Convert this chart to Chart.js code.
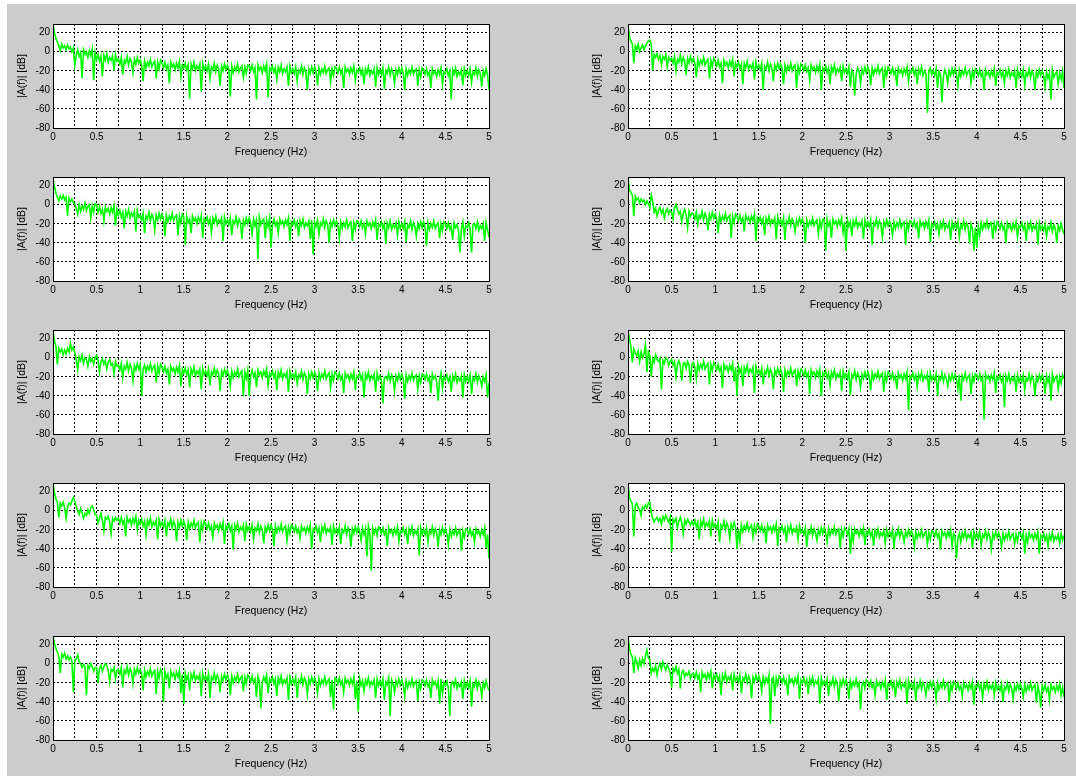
<!DOCTYPE html>
<html>
<head>
<meta charset="utf-8">
<script src="https://cdn.jsdelivr.net/npm/chart.js@4.4.1/dist/chart.umd.min.js"></script>
<style>
html,body{margin:0;padding:0;background:#ffffff;width:1076px;height:776px;overflow:hidden;}
#fig{position:absolute;left:7px;top:4px;width:1069px;height:772px;background:#cccccc;}
canvas{position:absolute;}
</style>
</head>
<body>
<div id="fig"></div>
<script>
// ---- data: |A(f)| in dB, frequency bins evenly spaced from 0 to 5 Hz ----
const F_MAX = 5;
const xTickLabels = [0, 0.5, 1, 1.5, 2, 2.5, 3, 3.5, 4, 4.5, 5];
const yTickLabels = [-80, -60, -40, -20, 0, 20];
const xTitle = 'Frequency (Hz)';
const yTitle = '|A(f)| [dB]';

const ampRow1Left = [
28,20,14,10,6,1,8,4,6,2,7,3,5,0,4,
-15,-4,2,-5,-1,-28,2,-3,0,-6,1,-4,3,-30,-1,
-8,-3,-10,-5,-26,-4,-9,-2,-11,-6,-9,-4,-20,-3,-10,
-8,-13,-6,-24,-9,-12,-5,-14,-7,-11,-22,-8,-13,-6,-12,
-9,-14,-31,-10,-17,-11,-15,-8,-16,-12,-10,-28,-11,-18,-9,
-12,-17,-11,-18,-14,-33,-11,-16,-13,-19,-12,-17,-10,-26,-14,
-17,-12,-19,-14,-49,-13,-18,-11,-20,-15,-18,-13,-42,-12,-19,
-15,-20,-13,-28,-16,-19,-12,-21,-14,-18,-36,-15,-20,-13,-19,
-14,-19,-47,-15,-22,-16,-20,-13,-21,-17,-15,-27,-16,-23,-14,
-15,-20,-14,-21,-17,-50,-14,-19,-16,-22,-15,-20,-13,-48,-17,
-20,-15,-22,-17,-29,-16,-21,-14,-23,-18,-21,-16,-36,-15,-22,
-18,-23,-16,-31,-19,-22,-15,-24,-17,-21,-40,-18,-23,-16,-22,
-16,-21,-35,-17,-24,-18,-22,-15,-23,-19,-17,-32,-18,-25,-16,
-17,-22,-16,-23,-19,-38,-16,-21,-18,-24,-17,-22,-15,-30,-19,
-22,-17,-24,-19,-34,-18,-23,-16,-25,-20,-23,-18,-37,-17,-24,
-19,-24,-17,-39,-20,-23,-16,-25,-18,-22,-33,-19,-24,-17,-23,
-17,-22,-40,-18,-25,-19,-23,-16,-24,-20,-18,-36,-19,-26,-17,
-19,-24,-18,-25,-21,-38,-18,-23,-20,-26,-19,-24,-17,-34,-21,
-23,-18,-25,-20,-50,-19,-24,-17,-26,-21,-24,-19,-35,-18,-25,
-20,-25,-18,-32,-21,-24,-17,-26,-19,-23,-37,-20,-25,-18,-24,
-40];

const ampRow1Right = [
28,16,11,8,-12,6,2,8,0,4,7,2,6,9,11,
12,8,-20,-3,-6,-2,-8,-4,-14,-5,-8,-3,-16,-6,-9,
-7,-12,-5,-20,-8,-11,-4,-13,-6,-10,-24,-7,-12,-5,-11,
-7,-12,-27,-8,-15,-9,-13,-6,-14,-10,-8,-28,-9,-16,-7,
-10,-15,-9,-16,-12,-33,-9,-14,-11,-17,-10,-15,-8,-26,-12,
-16,-11,-18,-13,-34,-12,-17,-10,-19,-14,-17,-12,-29,-11,-18,
-14,-19,-12,-40,-15,-18,-11,-20,-13,-17,-31,-14,-19,-12,-18,
-13,-18,-34,-14,-21,-15,-19,-12,-20,-16,-14,-38,-15,-22,-13,
-15,-20,-14,-21,-17,-30,-14,-19,-16,-22,-15,-20,-13,-40,-17,
-20,-15,-22,-17,-34,-16,-21,-14,-23,-18,-21,-16,-31,-15,-22,
-18,-23,-16,-37,-19,-22,-46,-24,-17,-21,-33,-18,-23,-16,-22,
-16,-21,-35,-17,-24,-18,-22,-15,-23,-19,-17,-38,-18,-25,-16,
-18,-23,-17,-24,-20,-36,-17,-22,-19,-25,-18,-23,-16,-31,-20,
-22,-17,-24,-19,-34,-18,-23,-16,-25,-20,-23,-64,-20,-17,-24,
-20,-25,-18,-38,-21,-24,-53,-26,-19,-23,-33,-20,-25,-18,-24,
-18,-23,-36,-19,-26,-20,-24,-17,-25,-21,-19,-33,-20,-27,-18,
-20,-25,-19,-26,-22,-40,-19,-24,-21,-27,-20,-25,-18,-36,-22,
-24,-19,-26,-21,-33,-20,-25,-18,-27,-22,-25,-20,-38,-19,-26,
-21,-26,-19,-35,-22,-25,-18,-27,-20,-24,-40,-21,-26,-19,-25,
-20,-25,-37,-21,-28,-22,-50,-19,-27,-23,-21,-34,-22,-29,-20,
-38];

const ampRow2Left = [
28,19,12,8,4,9,6,10,5,8,-12,7,3,6,2,
1,-4,-10,0,-7,-1,-5,2,-6,-2,0,-14,-1,-8,1,
0,-8,-2,-9,-5,-17,-2,-7,-4,-10,-3,-8,-1,-22,-5,
-11,-6,-13,-8,-25,-7,-12,-5,-14,-9,-12,-7,-28,-6,-13,
-11,-16,-9,-30,-12,-15,-8,-17,-10,-14,-27,-11,-16,-9,-15,
-10,-15,-33,-11,-18,-12,-16,-9,-17,-13,-11,-32,-12,-19,-10,
-13,-42,-12,-19,-15,-30,-12,-17,-14,-20,-13,-18,-11,-35,-15,
-18,-13,-20,-15,-29,-14,-19,-12,-21,-16,-19,-14,-38,-13,-20,
-16,-21,-14,-32,-17,-20,-13,-22,-15,-19,-36,-16,-21,-14,-20,
-14,-19,-31,-15,-22,-16,-57,-13,-21,-17,-15,-35,-16,-23,-14,
-45,-21,-15,-22,-18,-30,-15,-20,-17,-23,-16,-21,-14,-38,-18,
-21,-16,-23,-18,-33,-17,-22,-15,-24,-19,-22,-17,-36,-16,-52,
-18,-23,-16,-31,-19,-22,-15,-24,-17,-21,-40,-18,-23,-16,-22,
-17,-22,-35,-18,-25,-19,-23,-16,-24,-20,-18,-38,-19,-26,-17,
-18,-23,-17,-24,-20,-31,-17,-22,-19,-25,-18,-23,-16,-37,-20,
-23,-18,-25,-20,-41,-19,-24,-17,-26,-21,-24,-19,-32,-18,-25,
-20,-25,-18,-39,-21,-24,-17,-26,-19,-23,-33,-20,-25,-18,-24,
-18,-23,-43,-19,-26,-20,-24,-17,-25,-21,-19,-35,-20,-27,-18,
-20,-25,-19,-26,-22,-37,-19,-24,-21,-27,-50,-25,-18,-33,-22,
-24,-19,-26,-50,-21,-20,-25,-18,-27,-22,-25,-20,-38,-19,-26,
-34];

const ampRow2Right = [
28,15,13,10,-12,9,5,7,2,6,3,5,0,4,1,
-3,10,4,-8,-4,-12,-6,-3,-9,-5,-14,-7,-4,-10,-6,
-8,-15,-3,0,-5,-10,-7,-18,-9,-5,-11,-24,-7,-12,-9,
-10,-15,-8,-20,-11,-14,-7,-16,-9,-13,-27,-10,-15,-8,-14,
-10,-15,-30,-11,-18,-12,-16,-9,-17,-13,-11,-35,-12,-19,-10,
-12,-17,-11,-18,-14,-28,-11,-16,-13,-19,-12,-17,-10,-38,-14,
-18,-13,-20,-15,-32,-14,-19,-12,-21,-16,-19,-14,-36,-13,-20,
-16,-21,-14,-37,-17,-20,-13,-22,-15,-19,-28,-16,-21,-14,-20,
-15,-20,-40,-16,-23,-17,-21,-14,-22,-18,-16,-31,-17,-24,-15,
-16,-48,-15,-22,-18,-35,-15,-20,-17,-23,-16,-21,-14,-29,-18,
-48,-16,-23,-18,-33,-17,-22,-15,-24,-19,-22,-17,-36,-16,-23,
-18,-23,-16,-42,-19,-22,-15,-24,-17,-21,-34,-18,-23,-16,-22,
-17,-22,-32,-18,-25,-19,-23,-16,-24,-20,-18,-42,-19,-26,-17,
-18,-23,-17,-24,-20,-35,-17,-22,-19,-25,-18,-23,-16,-39,-20,
-23,-18,-25,-20,-31,-19,-24,-17,-26,-21,-24,-19,-37,-18,-25,
-20,-25,-18,-34,-21,-24,-17,-26,-19,-23,-41,-20,-25,-48,-24,
-45,-23,-32,-19,-26,-20,-24,-17,-25,-21,-19,-36,-20,-27,-18,
-20,-25,-19,-26,-22,-40,-19,-24,-21,-27,-20,-25,-18,-34,-22,
-24,-19,-26,-21,-38,-20,-25,-18,-27,-22,-25,-20,-42,-19,-26,
-22,-27,-20,-33,-23,-26,-19,-28,-21,-25,-40,-22,-27,-20,-26,
-31];

const ampRow3Left = [
28,18,12,-7,10,6,9,3,8,4,10,6,15,8,11,
5,-2,-13,1,-3,3,-6,0,-2,-9,1,-4,-1,-7,0,
2,-3,-15,-4,-1,-7,-3,-12,-5,-2,-8,-6,-17,-4,-9,
-8,-13,-6,-21,-9,-12,-5,-14,-7,-11,-24,-8,-13,-6,-12,
-7,-40,-12,-8,-15,-9,-13,-6,-14,-10,-8,-26,-9,-16,-7,
-10,-15,-9,-16,-12,-28,-9,-14,-11,-17,-10,-15,-8,-30,-12,
-16,-11,-18,-13,-31,-12,-17,-10,-19,-14,-17,-12,-33,-11,-18,
-14,-19,-12,-29,-15,-18,-11,-19,-13,-17,-35,-14,-19,-12,-18,
-13,-18,-30,-14,-21,-15,-19,-12,-20,-16,-14,-40,-15,-22,-13,
-40,-19,-13,-20,-16,-31,-13,-18,-15,-21,-14,-19,-12,-29,-16,
-19,-14,-21,-16,-34,-15,-20,-13,-22,-17,-20,-15,-36,-14,-21,
-17,-22,-15,-27,-18,-21,-14,-23,-16,-20,-38,-17,-22,-15,-21,
-15,-20,-35,-16,-23,-17,-21,-14,-22,-18,-16,-31,-17,-24,-15,
-17,-22,-16,-23,-19,-37,-16,-21,-18,-24,-17,-22,-15,-34,-19,
-21,-16,-23,-18,-42,-17,-22,-15,-24,-19,-22,-17,-36,-16,-23,
-19,-24,-48,-21,-20,-23,-16,-25,-18,-22,-35,-19,-24,-17,-23,
-17,-22,-43,-18,-25,-19,-23,-16,-24,-20,-18,-33,-19,-26,-17,
-18,-23,-17,-24,-20,-37,-17,-22,-19,-25,-45,-23,-16,-32,-20,
-23,-18,-25,-20,-36,-19,-24,-17,-26,-21,-24,-19,-42,-18,-25,
-20,-25,-18,-38,-21,-24,-17,-26,-19,-23,-30,-20,-25,-18,-42,
-26];

const ampRow3Right = [
28,20,12,-5,9,5,2,7,-4,6,0,4,13,-15,6,
2,-20,-1,-5,3,-2,-4,-1,-33,-3,-6,0,-2,-8,-4,
-2,-8,-4,-20,-7,-3,-9,-24,-6,-5,-11,-4,-8,-26,-7,
-5,-10,-22,-6,-13,-7,-11,-4,-12,-8,-6,-28,-7,-14,-5,
-8,-13,-7,-14,-10,-32,-7,-12,-9,-15,-8,-13,-6,-25,-10,
-40,-9,-16,-11,-30,-10,-15,-8,-17,-12,-15,-10,-37,-9,-16,
-13,-18,-11,-28,-14,-17,-10,-19,-12,-16,-33,-13,-18,-11,-17,
-12,-17,-36,-13,-20,-14,-18,-11,-19,-15,-13,-30,-14,-21,-12,
-14,-19,-13,-20,-16,-38,-13,-18,-15,-21,-14,-19,-12,-40,-16,
-19,-14,-21,-16,-29,-15,-20,-13,-22,-17,-20,-15,-35,-14,-21,
-17,-22,-15,-39,-18,-21,-14,-23,-16,-20,-31,-17,-22,-15,-21,
-15,-20,-34,-16,-23,-17,-21,-14,-22,-18,-16,-36,-17,-24,-15,
-17,-22,-16,-23,-19,-33,-16,-21,-18,-24,-17,-22,-15,-55,-19,
-21,-16,-23,-18,-31,-17,-22,-15,-24,-19,-22,-17,-36,-16,-23,
-19,-24,-17,-40,-20,-23,-16,-25,-18,-22,-30,-19,-24,-17,-23,
-17,-22,-33,-18,-45,-19,-23,-16,-24,-20,-18,-38,-19,-25,-17,
-18,-23,-17,-24,-20,-65,-17,-22,-19,-25,-18,-23,-16,-37,-20,
-23,-18,-25,-20,-52,-19,-24,-17,-26,-21,-24,-19,-36,-18,-25,
-20,-25,-18,-34,-21,-24,-17,-26,-19,-23,-40,-20,-25,-18,-24,
-18,-23,-38,-19,-26,-20,-45,-17,-25,-21,-19,-33,-20,-27,-18,
-22];

const ampRow4Left = [
28,19,12,9,-7,8,5,9,3,-8,4,8,6,10,14,
10,4,0,-4,2,-2,-8,-3,-5,1,-3,3,5,1,-4,
-5,-13,-8,-3,-10,-21,-7,-9,-6,-12,-24,-8,-11,-7,-10,
-8,-13,-7,-14,-10,-27,-7,-12,-9,-15,-8,-13,-6,-20,-10,
-14,-9,-16,-11,-25,-10,-15,-8,-17,-12,-15,-10,-30,-9,-16,
-12,-17,-10,-27,-13,-16,-9,-18,-11,-15,-32,-12,-17,-10,-16,
-11,-16,-31,-12,-19,-13,-17,-10,-18,-14,-12,-33,-13,-20,-11,
-14,-19,-13,-20,-16,-28,-13,-18,-15,-21,-14,-19,-12,-35,-16,
-19,-14,-21,-16,-41,-15,-20,-13,-22,-17,-20,-15,-32,-14,-21,
-17,-22,-15,-30,-18,-21,-14,-23,-16,-20,-34,-17,-22,-15,-21,
-15,-20,-37,-16,-23,-17,-21,-14,-22,-18,-16,-31,-17,-24,-15,
-17,-22,-16,-23,-19,-29,-16,-21,-18,-24,-17,-22,-15,-40,-19,
-21,-16,-23,-18,-33,-17,-22,-15,-24,-19,-22,-17,-36,-16,-23,
-19,-24,-17,-35,-20,-23,-16,-25,-18,-22,-38,-19,-24,-17,-23,
-17,-22,-31,-18,-25,-19,-48,-16,-24,-63,-18,-24,-19,-26,-17,
-19,-24,-18,-25,-21,-37,-18,-23,-20,-26,-19,-24,-17,-32,-21,
-23,-18,-25,-20,-35,-19,-24,-17,-26,-21,-24,-19,-47,-18,-25,
-20,-25,-18,-33,-21,-24,-17,-26,-19,-23,-38,-20,-25,-18,-24,
-19,-24,-36,-20,-27,-21,-25,-18,-26,-22,-20,-42,-21,-28,-19,
-20,-25,-19,-26,-22,-33,-19,-24,-21,-27,-20,-25,-18,-39,-25,
-50];

const ampRow4Right = [
28,14,10,7,-27,5,8,3,1,-5,4,2,6,3,8,
9,-2,-8,-12,-9,-7,-11,-8,-14,-6,-10,-5,-9,-12,-7,
-43,-9,-12,-8,-18,-11,-7,-13,-24,-10,-14,-9,-12,-15,-11,
-15,-10,-17,-12,-30,-11,-16,-9,-18,-13,-16,-11,-27,-10,-17,
-14,-19,-12,-33,-15,-18,-11,-20,-13,-17,-29,-14,-19,-12,-18,
-40,-19,-32,-15,-22,-16,-20,-13,-21,-17,-15,-28,-16,-23,-14,
-16,-21,-15,-22,-18,-34,-15,-20,-17,-23,-16,-21,-14,-37,-18,
-21,-16,-23,-18,-33,-17,-22,-15,-24,-19,-22,-17,-30,-16,-23,
-20,-25,-18,-38,-21,-24,-17,-26,-19,-23,-31,-20,-25,-18,-24,
-18,-23,-33,-19,-26,-20,-24,-17,-25,-21,-19,-39,-20,-27,-18,
-20,-25,-19,-45,-22,-32,-19,-24,-21,-27,-20,-25,-18,-36,-22,
-25,-20,-27,-22,-37,-21,-26,-19,-28,-23,-26,-21,-34,-20,-27,
-22,-27,-20,-40,-23,-26,-19,-28,-21,-25,-33,-22,-27,-20,-26,
-21,-26,-38,-22,-29,-23,-27,-20,-28,-24,-22,-35,-23,-30,-21,
-22,-27,-21,-28,-24,-41,-21,-26,-23,-29,-22,-27,-20,-37,-24,
-27,-50,-29,-24,-33,-23,-28,-21,-30,-25,-28,-23,-39,-22,-29,
-24,-29,-22,-36,-25,-28,-21,-30,-23,-27,-40,-24,-29,-22,-28,
-23,-28,-38,-24,-31,-25,-29,-22,-30,-26,-24,-35,-25,-32,-23,
-24,-29,-23,-45,-26,-33,-23,-28,-25,-31,-24,-29,-22,-45,-26,
-29,-24,-31,-26,-37,-25,-30,-23,-32,-27,-30,-25,-34,-24,-31,
-26];

const ampRow5Left = [
28,21,16,12,8,-10,10,7,11,5,8,4,7,3,-30,
3,5,9,2,0,-4,-1,-3,-33,-2,-5,0,-3,-8,-4,
-4,-20,-5,-2,-8,-3,0,-2,-7,-19,-6,-8,-4,-16,-7,
-6,-11,-4,-25,-7,-10,-3,-12,-5,-9,-21,-6,-11,-4,-10,
-6,-11,-28,-7,-14,-8,-12,-5,-13,-9,-7,-32,-8,-15,-6,
-9,-40,-8,-15,-11,-26,-8,-13,-10,-16,-9,-14,-7,-31,-11,
-42,-10,-17,-12,-28,-11,-16,-9,-18,-13,-16,-11,-34,-10,-17,
-13,-18,-11,-36,-14,-17,-10,-19,-12,-16,-30,-13,-18,-11,-17,
-12,-17,-33,-13,-20,-14,-18,-11,-19,-15,-13,-29,-14,-21,-12,
-14,-19,-13,-20,-16,-35,-13,-18,-47,-20,-14,-19,-12,-31,-16,
-19,-14,-21,-16,-34,-15,-20,-13,-22,-17,-20,-15,-38,-14,-21,
-16,-21,-14,-36,-17,-20,-13,-22,-15,-19,-32,-16,-21,-14,-20,
-15,-20,-31,-16,-23,-17,-21,-14,-22,-18,-16,-35,-17,-48,-15,
-16,-21,-15,-22,-18,-30,-15,-20,-17,-23,-16,-21,-14,-37,-18,
-50,-16,-23,-18,-29,-17,-22,-15,-24,-19,-22,-17,-36,-16,-23,
-18,-23,-16,-38,-19,-22,-15,-55,-17,-21,-30,-18,-23,-16,-22,
-17,-22,-34,-18,-25,-19,-23,-16,-24,-20,-18,-39,-19,-26,-17,
-18,-23,-17,-24,-20,-36,-17,-22,-19,-25,-18,-42,-16,-31,-20,
-23,-18,-25,-55,-21,-19,-24,-17,-26,-21,-24,-19,-37,-18,-25,
-20,-25,-18,-45,-21,-24,-17,-26,-19,-23,-34,-20,-25,-18,-24,
-28];

const ampRow5Right = [
28,16,10,7,-10,6,2,-5,4,-2,5,0,8,14,6,
4,-10,-5,-8,-2,-12,-4,0,-6,2,-3,-7,-1,-5,-9,
-25,-5,-8,-3,-10,-6,-26,-9,-7,-14,-10,-12,-8,-16,-11,
-10,-15,-9,-16,-12,-30,-9,-14,-11,-17,-10,-15,-8,-26,-12,
-16,-11,-18,-13,-33,-12,-17,-10,-19,-14,-17,-12,-28,-11,-18,
-14,-19,-12,-31,-15,-18,-11,-20,-13,-17,-36,-14,-19,-12,-18,
-13,-18,-29,-14,-21,-15,-19,-12,-63,-16,-14,-34,-15,-22,-13,
-15,-20,-14,-21,-17,-33,-14,-19,-16,-22,-15,-20,-13,-37,-17,
-20,-15,-22,-17,-32,-16,-21,-14,-23,-18,-21,-16,-42,-15,-22,
-18,-23,-16,-34,-19,-22,-15,-24,-17,-21,-39,-18,-23,-16,-22,
-17,-22,-37,-18,-25,-19,-23,-16,-24,-20,-48,-22,-19,-26,-17,
-19,-24,-18,-25,-21,-33,-18,-23,-20,-26,-19,-24,-17,-38,-21,
-23,-18,-25,-20,-35,-19,-24,-17,-26,-21,-24,-19,-42,-18,-25,
-21,-26,-19,-39,-22,-25,-18,-27,-20,-24,-33,-21,-26,-19,-25,
-19,-24,-37,-20,-27,-21,-25,-18,-26,-22,-20,-40,-21,-28,-19,
-21,-26,-20,-27,-23,-34,-20,-25,-22,-28,-21,-26,-19,-43,-23,
-25,-20,-27,-22,-36,-21,-26,-19,-28,-23,-26,-21,-33,-20,-27,
-23,-28,-21,-40,-24,-27,-20,-29,-22,-26,-37,-23,-28,-21,-27,
-21,-26,-35,-22,-29,-23,-27,-20,-28,-24,-22,-41,-23,-30,-46,
-23,-28,-22,-29,-25,-38,-22,-27,-24,-30,-23,-28,-21,-33,-25,
-35];

const panels = [
  {row: 0, col: 0, values: ampRow1Left},
  {row: 0, col: 1, values: ampRow1Right},
  {row: 1, col: 0, values: ampRow2Left},
  {row: 1, col: 1, values: ampRow2Right},
  {row: 2, col: 0, values: ampRow3Left},
  {row: 2, col: 1, values: ampRow3Right},
  {row: 3, col: 0, values: ampRow4Left},
  {row: 3, col: 1, values: ampRow4Right},
  {row: 4, col: 0, values: ampRow5Left},
  {row: 4, col: 1, values: ampRow5Right}
];

// ---- layout ----
const PLOT_LEFT = [53, 628];
const PLOT_TOP0 = 21, ROW_PITCH = 153;
const PLOT_W = 436, PLOT_H = 107;
const Y_AXIS_W = 37, PAD_T = 6, PAD_R = 12, X_AXIS_H = 32;
const FONT = "'Liberation Sans', Arial, Helvetica, sans-serif";

const plotBg = {
  id: 'plotBg',
  beforeDraw(chart) {
    const {ctx, chartArea: a} = chart;
    ctx.save();
    ctx.fillStyle = '#ffffff';
    ctx.fillRect(a.left, a.top, a.right - a.left, a.bottom - a.top);
    ctx.restore();
  }
};
const frame = {
  id: 'frame',
  afterDatasetsDraw(chart) {
    const {ctx, chartArea: a} = chart;
    ctx.save();
    ctx.setLineDash([]);
    ctx.strokeStyle = '#000000';
    ctx.lineWidth = 1;
    ctx.strokeRect(a.left + 0.5, a.top + 0.5, a.right - a.left, a.bottom - a.top);
    ctx.restore();
  }
};

function isTickLabel(list, v) {
  return list.some(t => Math.abs(t - v) < 1e-6);
}

panels.forEach(p => {
  const c = document.createElement('canvas');
  const w = Y_AXIS_W + PLOT_W + PAD_R;
  const h = PAD_T + PLOT_H + X_AXIS_H;
  c.width = w; c.height = h;
  c.style.width = w + 'px'; c.style.height = h + 'px';
  c.style.left = (PLOT_LEFT[p.col] - Y_AXIS_W) + 'px';
  c.style.top = (PLOT_TOP0 + p.row * ROW_PITCH - PAD_T) + 'px';
  document.body.appendChild(c);

  const n = p.values.length;
  const pts = p.values.map((v, i) => ({x: i * F_MAX / (n - 1), y: v}));

  new Chart(c, {
    type: 'line',
    data: {datasets: [{
      data: pts, borderColor: '#00ff00', borderWidth: 1.6,
      pointRadius: 0, tension: 0, fill: false, borderJoinStyle: 'miter'
    }]},
    options: {
      responsive: false, animation: false, devicePixelRatio: 1,
      layout: {padding: {left: 0, top: PAD_T, right: PAD_R, bottom: 0}},
      plugins: {legend: {display: false}, tooltip: {enabled: false}},
      events: [],
      scales: {
        x: {
          type: 'linear', min: 0, max: F_MAX,
          afterBuildTicks: s => { const t = []; for (let k = 0; k <= 20; k++) t.push({value: k * 0.25}); s.ticks = t; },
          afterFit: s => { s.height = X_AXIS_H; },
          ticks: {
            autoSkip: false, maxRotation: 0, minRotation: 0, padding: 3,
            color: '#000', font: {family: FONT, size: 10},
            callback: v => isTickLabel(xTickLabels, v) ? String(+v.toFixed(2)) : ''
          },
          grid: {color: '#000', lineWidth: 1, drawTicks: false},
          border: {display: false, dash: [2, 2]},
          title: {display: true, text: xTitle, color: '#000',
                  font: {family: FONT, size: 10.5}, padding: {top: 0, bottom: 2}}
        },
        y: {
          type: 'linear', min: -80, max: 29,
          afterBuildTicks: s => { const t = []; for (let v = -80; v <= 20; v += 10) t.push({value: v}); s.ticks = t; },
          afterFit: s => { s.width = Y_AXIS_W; },
          ticks: {
            padding: 3, color: '#000', font: {family: FONT, size: 10},
            callback: v => isTickLabel(yTickLabels, v) ? String(v) : ''
          },
          grid: {color: '#000', lineWidth: 1, drawTicks: false},
          border: {display: false, dash: [2, 2]},
          title: {display: true, text: yTitle, color: '#000',
                  font: {family: FONT, size: 10.5}, padding: {top: 0, bottom: 0}}
        }
      }
    },
    plugins: [plotBg, frame]
  });
});
</script>
</body>
</html>
